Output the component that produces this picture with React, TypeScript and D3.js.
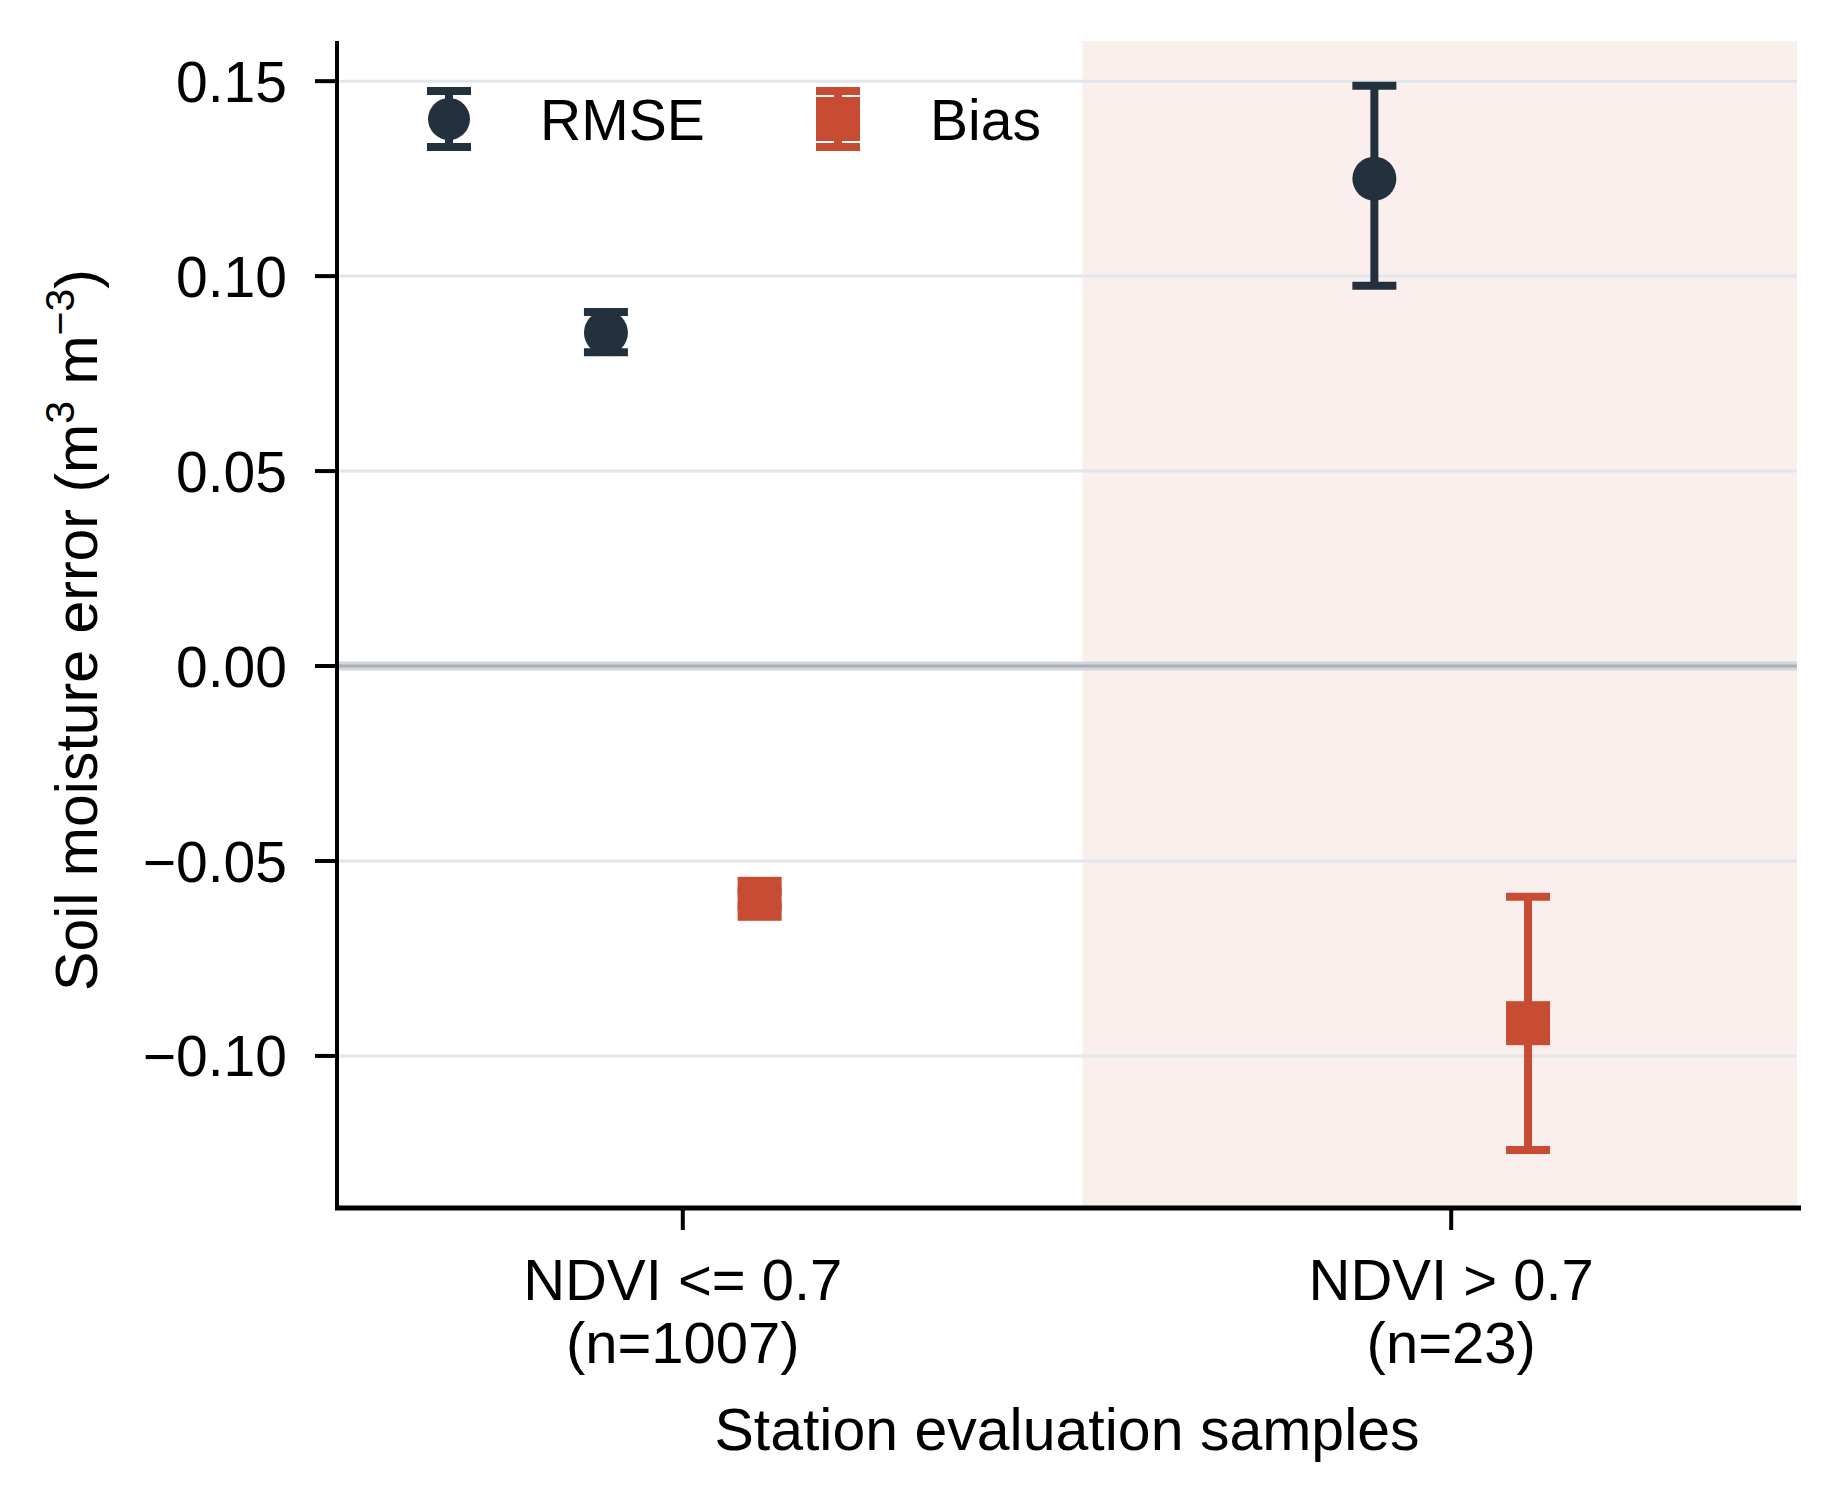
import React from "react";
import * as d3 from "d3";

// ---- data ----
const categoryNames = ["NDVI <= 0.7", "NDVI > 0.7"];
const categoryCounts = ["(n=1007)", "(n=23)"];
const categoryPos = [0, 1];
const rmseValues = [0.0855, 0.125];
const rmseLower = [0.0805, 0.0975];
const rmseUpper = [0.0908, 0.1488];
const biasValues = [-0.0597, -0.0916];
const biasLower = [-0.0617, -0.1241];
const biasUpper = [-0.0577, -0.0592];
const yTicks = [-0.1, -0.05, 0, 0.05, 0.1, 0.15];
const xDomain = [-0.45, 1.45];
const yDomain = [-0.139, 0.1603];
const shadeRange = [0.52, 1.45];
const seriesOffset = 0.1;

const W = 1836;
const H = 1500;
const left = 337;
const right = 1797;
const top = 41;
const bottom = 1208;

const NAVY = "#23303d";
const RED = "#c84b33";
const FONT = "'Liberation Sans', Arial, Helvetica, sans-serif";
const FS = 57;
const FS_LABEL = 59;

const fmt = (v: number) => {
  const s = d3.format(".2f")(Math.abs(v));
  return v < 0 ? "\u2212" + s : s;
};

function ErrorBar({ x, y0, y1, color }: { x: number; y0: number; y1: number; color: string }) {
  const cw = 22;
  return (
    <g stroke={color} strokeWidth={8}>
      <line x1={x} x2={x} y1={y0} y2={y1} />
      <line x1={x - cw} x2={x + cw} y1={y0} y2={y0} />
      <line x1={x - cw} x2={x + cw} y1={y1} y2={y1} />
    </g>
  );
}

export default function App() {
  const x = d3.scaleLinear().domain(xDomain).range([left, right]);
  const y = d3.scaleLinear().domain(yDomain).range([bottom, top]);
  const r = 22;
  const sq = 44;

  return (
    <svg
      width={W}
      height={H}
      style={{ position: "absolute", left: 0, top: 0, background: "#fff" }}
      fontFamily={FONT}
    >
      <rect x={0} y={0} width={W} height={H} fill="#fff" />
      {/* shaded region */}
      <rect
        x={x(shadeRange[0])}
        y={top}
        width={x(shadeRange[1]) - x(shadeRange[0])}
        height={bottom - top}
        fill="#fbefed"
      />
      {/* grid */}
      {yTicks.map((t) => (
        <line
          key={"g" + t}
          x1={left}
          x2={right}
          y1={y(t)}
          y2={y(t)}
          stroke={t === 0 ? "#d2d7db" : "#dfe6ec"}
          strokeWidth={t === 0 ? 9 : 3}
        />
      ))}
      <line x1={left} x2={right} y1={y(0)} y2={y(0)} stroke="#a9afb4" strokeWidth={3} />

      {/* RMSE */}
      {categoryPos.map((c, i) => {
        const cx = x(c - seriesOffset);
        return (
          <g key={"rmse" + i}>
            <ErrorBar x={cx} y0={y(rmseLower[i])} y1={y(rmseUpper[i])} color={NAVY} />
            <circle cx={cx} cy={y(rmseValues[i])} r={r} fill={NAVY} />
          </g>
        );
      })}
      {/* Bias */}
      {categoryPos.map((c, i) => {
        const cx = x(c + seriesOffset);
        return (
          <g key={"bias" + i}>
            <ErrorBar x={cx} y0={y(biasLower[i])} y1={y(biasUpper[i])} color={RED} />
            <rect x={cx - sq / 2} y={y(biasValues[i]) - sq / 2} width={sq} height={sq} fill={RED} />
          </g>
        );
      })}

      {/* axes */}
      <line x1={left} x2={left} y1={top} y2={bottom + 2} stroke="#000" strokeWidth={4} />
      <line x1={left - 2} x2={right + 4} y1={bottom} y2={bottom} stroke="#000" strokeWidth={5} />
      {yTicks.map((t) => (
        <g key={"yt" + t}>
          <line x1={left - 22} x2={left} y1={y(t)} y2={y(t)} stroke="#000" strokeWidth={4} />
          <text
            x={left - 50}
            y={y(t)}
            dy="0.36em"
            textAnchor="end"
            fontSize={FS}
            fill="#000"
          >
            {fmt(t)}
          </text>
        </g>
      ))}
      {categoryPos.map((c, i) => (
        <g key={"xt" + i}>
          <line x1={x(c)} x2={x(c)} y1={bottom} y2={bottom + 22} stroke="#000" strokeWidth={4} />
          <text x={x(c)} y={1300} textAnchor="middle" fontSize={58} fill="#000">
            {categoryNames[i]}
          </text>
          <text x={x(c)} y={1363} textAnchor="middle" fontSize={58} fill="#000">
            {categoryCounts[i]}
          </text>
        </g>
      ))}
      <text x={(left + right) / 2} y={1450} textAnchor="middle" fontSize={FS_LABEL} fill="#000">
        Station evaluation samples
      </text>
      <text
        transform={`translate(97, 630) rotate(-90)`}
        textAnchor="middle"
        fontSize={FS_LABEL}
        fill="#000"
      >
        Soil moisture error (m
        <tspan dy={-23} fontSize={41}>3</tspan>
        <tspan dy={23}> m</tspan>
        <tspan dy={-23} fontSize={41}>{"\u22123"}</tspan>
        <tspan dy={23}>)</tspan>
      </text>

      {/* legend */}
      <g>
        <ErrorBar x={449} y0={91} y1={147} color={NAVY} />
        <circle cx={449} cy={119} r={21} fill={NAVY} />
        <text x={540} y={140} fontSize={FS} fill="#000">RMSE</text>
        <ErrorBar x={838} y0={91} y1={147} color={RED} />
        <rect x={838 - 22} y={119 - 22} width={44} height={44} fill={RED} />
        <text x={930} y={140} fontSize={FS} fill="#000">Bias</text>
      </g>
    </svg>
  );
}
